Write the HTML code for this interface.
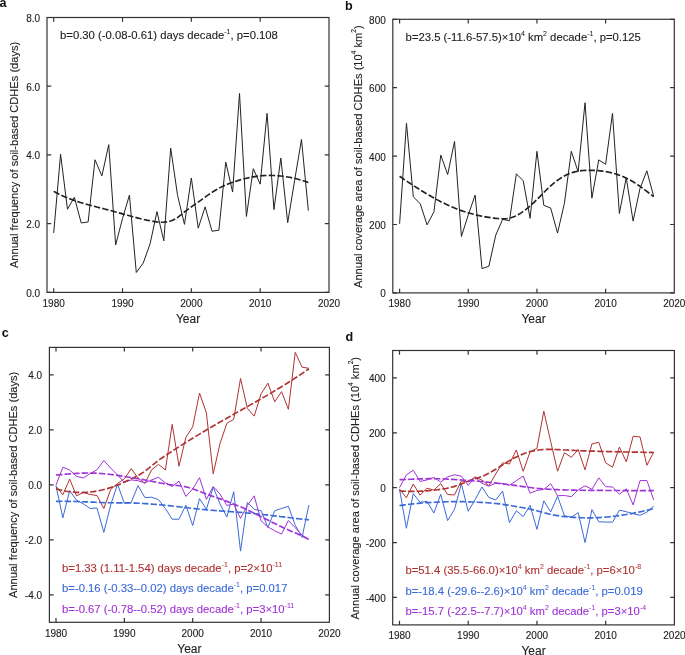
<!DOCTYPE html>
<html><head><meta charset="utf-8"><style>
html,body{margin:0;padding:0;background:#fff;width:685px;height:655px;overflow:hidden}
svg{display:block;will-change:transform}
text{font-family:"Liberation Sans", sans-serif;fill:#222;stroke:#222;stroke-width:0.12px}
.tk{font-size:10px}
.al{font-size:11.1px}
.yr{font-size:12px}
.an{font-size:11.3px}
.an tspan.sup{font-size:7px;stroke-width:0.05px}
.al tspan.sup{font-size:6.6px}
.pl{font-size:12.6px;font-weight:bold;fill:#111;stroke-width:0}
</style></head><body>
<svg width="685" height="655" viewBox="0 0 685 655">
<rect width="685" height="655" fill="#fff"/>
<rect x="47.00" y="17.50" width="282.00" height="274.90" fill="none" stroke="#333" stroke-width="1.2"/>
<path d="M53.70 292.40V288.20M53.70 17.50V21.70M122.53 292.40V288.20M122.53 17.50V21.70M191.35 292.40V288.20M191.35 17.50V21.70M260.18 292.40V288.20M260.18 17.50V21.70M47.00 292.40H51.20M329.00 292.40H324.80M47.00 223.67H51.20M329.00 223.67H324.80M47.00 154.95H51.20M329.00 154.95H324.80M47.00 86.22H51.20M329.00 86.22H324.80M47.00 17.50H51.20M329.00 17.50H324.80" stroke="#333" stroke-width="1.2" fill="none"/>
<text x="40.20" y="296.90" text-anchor="end" class="tk">0.0</text>
<text x="40.20" y="228.17" text-anchor="end" class="tk">2.0</text>
<text x="40.20" y="159.45" text-anchor="end" class="tk">4.0</text>
<text x="40.20" y="90.72" text-anchor="end" class="tk">6.0</text>
<text x="40.20" y="22.00" text-anchor="end" class="tk">8.0</text>
<text x="53.70" y="306.60" text-anchor="middle" class="tk">1980</text>
<text x="122.53" y="306.60" text-anchor="middle" class="tk">1990</text>
<text x="191.35" y="306.60" text-anchor="middle" class="tk">2000</text>
<text x="260.18" y="306.60" text-anchor="middle" class="tk">2010</text>
<text x="329.00" y="306.60" text-anchor="middle" class="tk">2020</text>
<text x="188.00" y="323.00" text-anchor="middle" class="yr">Year</text>
<text transform="translate(18.00 154.95) rotate(-90)" text-anchor="middle" class="al">Annual frequency of soil-based CDHEs (days)</text>
<polyline points="53.70,232.95 60.58,154.26 67.47,209.24 74.35,197.22 81.23,222.99 88.11,221.96 95.00,159.76 101.88,175.91 108.76,144.64 115.64,244.98 122.53,218.52 129.41,195.15 136.29,272.47 143.17,263.19 150.06,243.95 156.94,211.65 163.82,240.86 170.70,148.08 177.59,195.50 184.47,224.36 191.35,177.97 198.23,228.14 205.12,206.84 212.00,231.23 218.88,230.20 225.76,162.17 232.64,192.06 239.53,93.44 246.41,216.46 253.29,168.69 260.18,184.16 267.06,113.37 273.94,209.59 280.82,158.04 287.71,222.64 294.59,180.72 301.47,139.49 308.35,210.62" fill="none" stroke="#222" stroke-width="1.00" stroke-linejoin="miter" />
<polyline points="53.70,191.36 55.42,192.29 57.14,193.19 58.86,194.05 60.58,194.88 62.30,195.68 64.02,196.44 65.74,197.18 67.47,197.89 69.19,198.57 70.91,199.23 72.63,199.86 74.35,200.47 76.07,201.06 77.79,201.64 79.51,202.19 81.23,202.72 82.95,203.24 84.67,203.75 86.39,204.24 88.11,204.72 89.83,205.19 91.55,205.65 93.27,206.11 95.00,206.56 96.72,207.00 98.44,207.44 100.16,207.88 101.88,208.31 103.60,208.75 105.32,209.19 107.04,209.63 108.76,210.08 110.48,210.53 112.20,210.99 113.92,211.46 115.64,211.93 117.36,212.41 119.08,212.89 120.80,213.37 122.53,213.86 124.25,214.34 125.97,214.83 127.69,215.31 129.41,215.79 131.13,216.26 132.85,216.73 134.57,217.19 136.29,217.65 138.01,218.09 139.73,218.52 141.45,218.94 143.17,219.34 144.89,219.73 146.61,220.11 148.33,220.47 150.06,220.80 151.78,221.12 153.50,221.42 155.22,221.69 156.94,221.92 158.66,222.09 160.38,222.20 162.10,222.24 163.82,222.19 165.54,222.05 167.26,221.80 168.98,221.44 170.70,220.94 172.42,220.31 174.14,219.53 175.86,218.58 177.59,217.46 179.31,216.19 181.03,214.81 182.75,213.39 184.47,211.97 186.19,210.60 187.91,209.30 189.63,208.05 191.35,206.84 193.07,205.66 194.79,204.48 196.51,203.30 198.23,202.09 199.95,200.87 201.67,199.62 203.39,198.37 205.12,197.12 206.84,195.88 208.56,194.68 210.28,193.50 212.00,192.36 213.72,191.27 215.44,190.22 217.16,189.22 218.88,188.27 220.60,187.36 222.32,186.51 224.04,185.71 225.76,184.95 227.48,184.24 229.20,183.57 230.92,182.93 232.64,182.32 234.37,181.74 236.09,181.17 237.81,180.63 239.53,180.11 241.25,179.62 242.97,179.15 244.69,178.70 246.41,178.28 248.13,177.89 249.85,177.52 251.57,177.18 253.29,176.87 255.01,176.59 256.73,176.34 258.45,176.12 260.18,175.93 261.90,175.77 263.62,175.64 265.34,175.54 267.06,175.48 268.78,175.44 270.50,175.43 272.22,175.46 273.94,175.51 275.66,175.60 277.38,175.71 279.10,175.85 280.82,176.02 282.54,176.22 284.26,176.45 285.98,176.70 287.71,176.98 289.43,177.30 291.15,177.63 292.87,178.00 294.59,178.39 296.31,178.81 298.03,179.26 299.75,179.73 301.47,180.23 303.19,180.75 304.91,181.30 306.63,181.88 308.35,182.48" fill="none" stroke="#222" stroke-width="1.65" stroke-dasharray="6.4 2.2"/>
<rect x="392.80" y="19.30" width="281.50" height="273.60" fill="none" stroke="#333" stroke-width="1.2"/>
<path d="M399.60 292.90V288.70M399.60 19.30V23.50M468.27 292.90V288.70M468.27 19.30V23.50M536.95 292.90V288.70M536.95 19.30V23.50M605.62 292.90V288.70M605.62 19.30V23.50M392.80 292.90H397.00M674.30 292.90H670.10M392.80 224.50H397.00M674.30 224.50H670.10M392.80 156.10H397.00M674.30 156.10H670.10M392.80 87.70H397.00M674.30 87.70H670.10M392.80 19.30H397.00M674.30 19.30H670.10" stroke="#333" stroke-width="1.2" fill="none"/>
<text x="385.80" y="297.40" text-anchor="end" class="tk">0</text>
<text x="385.80" y="229.00" text-anchor="end" class="tk">200</text>
<text x="385.80" y="160.60" text-anchor="end" class="tk">400</text>
<text x="385.80" y="92.20" text-anchor="end" class="tk">600</text>
<text x="385.80" y="23.80" text-anchor="end" class="tk">800</text>
<text x="399.60" y="306.60" text-anchor="middle" class="tk">1980</text>
<text x="468.27" y="306.60" text-anchor="middle" class="tk">1990</text>
<text x="536.95" y="306.60" text-anchor="middle" class="tk">2000</text>
<text x="605.62" y="306.60" text-anchor="middle" class="tk">2010</text>
<text x="674.30" y="306.60" text-anchor="middle" class="tk">2020</text>
<text x="533.55" y="323.30" text-anchor="middle" class="yr">Year</text>
<text transform="translate(362.00 156.70) rotate(-90)" text-anchor="middle" class="al">Annual coverage area of soil-based CDHEs (10<tspan class="sup" dy="-5.6">4</tspan><tspan dy="5.6"> km</tspan><tspan class="sup" dy="-5.6">2</tspan><tspan dy="5.6">)</tspan></text>
<polyline points="399.60,223.82 406.47,123.27 413.34,196.80 420.20,203.64 427.07,224.84 433.94,211.85 440.81,155.07 447.67,174.57 454.54,141.39 461.41,236.47 468.27,214.92 475.14,195.09 482.01,268.62 488.88,266.22 495.75,235.10 502.61,219.37 509.48,220.74 516.35,173.88 523.22,180.72 530.08,218.34 536.95,151.31 543.82,205.35 550.68,208.08 557.55,233.05 564.42,203.30 571.29,151.31 578.15,171.83 585.02,102.75 591.89,198.17 598.76,159.86 605.62,164.31 612.49,113.35 619.36,213.56 626.23,177.65 633.10,221.08 639.96,188.59 646.83,170.81 653.70,196.46" fill="none" stroke="#222" stroke-width="1.00" stroke-linejoin="miter" />
<polyline points="399.60,176.29 401.32,177.47 403.03,178.64 404.75,179.81 406.47,180.96 408.18,182.11 409.90,183.25 411.62,184.38 413.34,185.51 415.05,186.62 416.77,187.72 418.49,188.81 420.20,189.88 421.92,190.95 423.64,192.00 425.35,193.03 427.07,194.06 428.79,195.06 430.50,196.06 432.22,197.03 433.94,197.99 435.65,198.93 437.37,199.86 439.09,200.76 440.81,201.65 442.52,202.52 444.24,203.36 445.96,204.19 447.67,204.99 449.39,205.78 451.11,206.54 452.82,207.27 454.54,207.99 456.26,208.68 457.97,209.34 459.69,209.98 461.41,210.60 463.12,211.19 464.84,211.76 466.56,212.30 468.27,212.82 469.99,213.32 471.71,213.80 473.43,214.25 475.14,214.69 476.86,215.10 478.58,215.49 480.29,215.86 482.01,216.21 483.73,216.54 485.44,216.85 487.16,217.14 488.88,217.41 490.59,217.67 492.31,217.90 494.03,218.12 495.75,218.32 497.46,218.50 499.18,218.66 500.90,218.78 502.61,218.84 504.33,218.83 506.05,218.72 507.76,218.50 509.48,218.15 511.20,217.69 512.91,217.10 514.63,216.41 516.35,215.61 518.06,214.70 519.78,213.70 521.50,212.61 523.22,211.44 524.93,210.18 526.65,208.84 528.37,207.44 530.08,205.97 531.80,204.44 533.52,202.85 535.23,201.21 536.95,199.53 538.67,197.80 540.38,196.05 542.10,194.27 543.82,192.50 545.53,190.77 547.25,189.08 548.97,187.44 550.68,185.87 552.40,184.36 554.12,182.92 555.84,181.56 557.55,180.28 559.27,179.09 560.99,177.97 562.70,176.93 564.42,175.97 566.14,175.09 567.85,174.29 569.57,173.57 571.29,172.93 573.00,172.36 574.72,171.88 576.44,171.47 578.15,171.14 579.87,170.88 581.59,170.68 583.31,170.54 585.02,170.44 586.74,170.37 588.46,170.34 590.17,170.32 591.89,170.34 593.61,170.38 595.32,170.45 597.04,170.56 598.76,170.69 600.47,170.86 602.19,171.06 603.91,171.30 605.62,171.58 607.34,171.89 609.06,172.25 610.78,172.64 612.49,173.08 614.21,173.56 615.93,174.08 617.64,174.64 619.36,175.25 621.08,175.91 622.79,176.61 624.51,177.35 626.23,178.15 627.94,178.99 629.66,179.88 631.38,180.83 633.10,181.82 634.81,182.86 636.53,183.95 638.25,185.10 639.96,186.30 641.68,187.55 643.40,188.83 645.11,190.14 646.83,191.46 648.55,192.77 650.26,194.08 651.98,195.35 653.70,196.59" fill="none" stroke="#222" stroke-width="1.65" stroke-dasharray="6.4 2.2"/>
<rect x="49.40" y="347.40" width="280.00" height="274.90" fill="none" stroke="#333" stroke-width="1.2"/>
<path d="M56.00 622.30V618.10M56.00 347.40V351.60M124.35 622.30V618.10M124.35 347.40V351.60M192.70 622.30V618.10M192.70 347.40V351.60M261.05 622.30V618.10M261.05 347.40V351.60M49.40 594.81H53.60M329.40 594.81H325.20M49.40 539.83H53.60M329.40 539.83H325.20M49.40 484.85H53.60M329.40 484.85H325.20M49.40 429.87H53.60M329.40 429.87H325.20M49.40 374.89H53.60M329.40 374.89H325.20" stroke="#333" stroke-width="1.2" fill="none"/>
<text x="42.10" y="599.31" text-anchor="end" class="tk">-4.0</text>
<text x="42.10" y="544.33" text-anchor="end" class="tk">-2.0</text>
<text x="42.10" y="489.35" text-anchor="end" class="tk">0.0</text>
<text x="42.10" y="434.37" text-anchor="end" class="tk">2.0</text>
<text x="42.10" y="379.39" text-anchor="end" class="tk">4.0</text>
<text x="56.00" y="636.50" text-anchor="middle" class="tk">1980</text>
<text x="124.35" y="636.50" text-anchor="middle" class="tk">1990</text>
<text x="192.70" y="636.50" text-anchor="middle" class="tk">2000</text>
<text x="261.05" y="636.50" text-anchor="middle" class="tk">2010</text>
<text x="329.40" y="636.50" text-anchor="middle" class="tk">2020</text>
<text x="189.40" y="653.20" text-anchor="middle" class="yr">Year</text>
<text transform="translate(17.30 484.85) rotate(-90)" text-anchor="middle" class="al">Annual frequency of soil-based CDHEs (days)</text>
<polyline points="56.00,486.22 62.84,494.75 69.67,479.08 76.50,495.85 83.34,492.55 90.17,494.47 97.01,495.57 103.84,508.49 110.68,489.52 117.52,483.48 124.35,478.80 131.19,468.63 138.02,477.98 144.85,483.48 151.69,469.73 158.53,464.37 165.36,470.01 172.19,424.37 179.03,466.16 185.86,437.29 192.70,426.85 199.53,393.03 206.37,412.83 213.20,473.85 220.04,443.34 226.87,423.27 233.71,419.42 240.54,378.46 247.38,408.43 254.21,416.12 261.05,393.86 267.88,383.14 274.72,401.83 281.55,391.66 288.39,409.25 295.23,352.35 302.06,367.19 308.89,368.29" fill="none" stroke="#b03232" stroke-width="1.00" stroke-linejoin="miter" />
<polyline points="56.00,485.67 62.84,517.84 69.67,490.62 76.50,500.24 83.34,503.82 90.17,508.49 97.01,507.94 103.84,532.41 110.68,504.92 117.52,484.16 124.35,503.27 131.19,502.44 138.02,485.67 144.85,497.50 151.69,497.22 158.53,499.69 165.36,508.49 172.19,519.21 179.03,519.21 185.86,505.19 192.70,525.54 199.53,498.59 206.37,509.32 213.20,487.05 220.04,504.09 226.87,517.01 233.71,491.72 240.54,551.10 247.38,502.44 254.21,509.32 261.05,510.69 267.88,527.46 274.72,510.69 281.55,508.49 288.39,506.29 295.23,525.26 302.06,537.36 308.89,505.06" fill="none" stroke="#3a6ad8" stroke-width="1.00" stroke-linejoin="miter" />
<polyline points="56.00,485.12 62.84,467.26 69.67,470.01 76.50,476.33 83.34,477.98 90.17,473.58 97.01,469.73 103.84,460.49 110.68,468.08 117.52,474.95 124.35,482.38 131.19,479.90 138.02,480.73 144.85,482.79 151.69,479.90 158.53,477.29 165.36,482.93 172.19,486.50 179.03,481.11 185.86,496.40 192.70,488.97 199.53,477.70 206.37,499.42 213.20,486.50 220.04,494.20 226.87,505.47 233.71,504.09 240.54,518.39 247.38,505.47 254.21,495.85 261.05,520.86 267.88,526.91 274.72,530.76 281.55,534.06 288.39,520.59 295.23,527.73 302.06,535.16 308.89,539.56" fill="none" stroke="#a033d8" stroke-width="1.00" stroke-linejoin="miter" />
<polyline points="56.00,488.84 57.71,489.32 59.42,489.77 61.13,490.18 62.84,490.55 64.54,490.90 66.25,491.21 67.96,491.48 69.67,491.72 71.38,491.93 73.09,492.10 74.80,492.24 76.50,492.34 78.21,492.41 79.92,492.45 81.63,492.46 83.34,492.43 85.05,492.37 86.76,492.27 88.47,492.15 90.17,491.99 91.88,491.79 93.59,491.57 95.30,491.31 97.01,491.02 98.72,490.70 100.43,490.35 102.14,489.97 103.84,489.55 105.55,489.10 107.26,488.63 108.97,488.11 110.68,487.57 112.39,487.00 114.10,486.40 115.81,485.76 117.52,485.10 119.22,484.40 120.93,483.68 122.64,482.92 124.35,482.14 126.06,481.33 127.77,480.51 129.48,479.68 131.19,478.85 132.89,478.01 134.60,477.17 136.31,476.31 138.02,475.41 139.73,474.46 141.44,473.44 143.15,472.34 144.85,471.14 146.56,469.87 148.27,468.54 149.98,467.17 151.69,465.78 153.40,464.40 155.11,463.03 156.82,461.71 158.53,460.43 160.23,459.18 161.94,457.97 163.65,456.79 165.36,455.64 167.07,454.50 168.78,453.37 170.49,452.25 172.19,451.14 173.90,450.03 175.61,448.93 177.32,447.84 179.03,446.75 180.74,445.67 182.45,444.60 184.16,443.52 185.86,442.46 187.57,441.40 189.28,440.34 190.99,439.29 192.70,438.25 194.41,437.21 196.12,436.17 197.83,435.14 199.53,434.11 201.24,433.09 202.95,432.07 204.66,431.06 206.37,430.05 208.08,429.04 209.79,428.04 211.50,427.04 213.20,426.04 214.91,425.04 216.62,424.05 218.33,423.07 220.04,422.08 221.75,421.10 223.46,420.12 225.17,419.14 226.87,418.17 228.58,417.19 230.29,416.22 232.00,415.25 233.71,414.29 235.42,413.32 237.13,412.36 238.84,411.39 240.54,410.43 242.25,409.47 243.96,408.51 245.67,407.55 247.38,406.58 249.09,405.62 250.80,404.65 252.51,403.69 254.21,402.72 255.92,401.75 257.63,400.78 259.34,399.80 261.05,398.82 262.76,397.84 264.47,396.85 266.18,395.86 267.88,394.87 269.59,393.87 271.30,392.86 273.01,391.85 274.72,390.83 276.43,389.81 278.14,388.78 279.85,387.75 281.55,386.70 283.26,385.65 284.97,384.59 286.68,383.53 288.39,382.45 290.10,381.37 291.81,380.28 293.52,379.18 295.23,378.06 296.93,376.94 298.64,375.81 300.35,374.67 302.06,373.51 303.77,372.35 305.48,371.17 307.19,369.98 308.89,368.78" fill="none" stroke="#b03232" stroke-width="1.65" stroke-dasharray="6.4 2.2"/>
<polyline points="56.00,501.34 57.71,501.31 59.42,501.29 61.13,501.27 62.84,501.27 64.54,501.28 66.25,501.29 67.96,501.32 69.67,501.34 71.38,501.38 73.09,501.42 74.80,501.47 76.50,501.52 78.21,501.58 79.92,501.64 81.63,501.70 83.34,501.77 85.05,501.83 86.76,501.90 88.47,501.97 90.17,502.05 91.88,502.12 93.59,502.19 95.30,502.26 97.01,502.33 98.72,502.39 100.43,502.45 102.14,502.51 103.84,502.57 105.55,502.62 107.26,502.67 108.97,502.71 110.68,502.74 112.39,502.77 114.10,502.80 115.81,502.81 117.52,502.83 119.22,502.84 120.93,502.85 122.64,502.87 124.35,502.88 126.06,502.90 127.77,502.92 129.48,502.95 131.19,502.99 132.89,503.03 134.60,503.09 136.31,503.15 138.02,503.22 139.73,503.30 141.44,503.39 143.15,503.48 144.85,503.58 146.56,503.69 148.27,503.81 149.98,503.93 151.69,504.06 153.40,504.20 155.11,504.34 156.82,504.49 158.53,504.64 160.23,504.80 161.94,504.96 163.65,505.13 165.36,505.30 167.07,505.47 168.78,505.65 170.49,505.83 172.19,506.02 173.90,506.21 175.61,506.40 177.32,506.59 179.03,506.79 180.74,506.99 182.45,507.19 184.16,507.39 185.86,507.59 187.57,507.79 189.28,508.00 190.99,508.20 192.70,508.40 194.41,508.60 196.12,508.79 197.83,508.98 199.53,509.17 201.24,509.35 202.95,509.52 204.66,509.69 206.37,509.85 208.08,510.01 209.79,510.15 211.50,510.29 213.20,510.42 214.91,510.55 216.62,510.68 218.33,510.80 220.04,510.92 221.75,511.03 223.46,511.15 225.17,511.27 226.87,511.38 228.58,511.50 230.29,511.62 232.00,511.74 233.71,511.87 235.42,512.00 237.13,512.12 238.84,512.26 240.54,512.39 242.25,512.53 243.96,512.68 245.67,512.83 247.38,512.98 249.09,513.14 250.80,513.30 252.51,513.47 254.21,513.64 255.92,513.81 257.63,513.99 259.34,514.17 261.05,514.36 262.76,514.54 264.47,514.73 266.18,514.93 267.88,515.12 269.59,515.32 271.30,515.52 273.01,515.72 274.72,515.92 276.43,516.12 278.14,516.33 279.85,516.53 281.55,516.73 283.26,516.94 284.97,517.14 286.68,517.35 288.39,517.55 290.10,517.76 291.81,517.96 293.52,518.16 295.23,518.36 296.93,518.56 298.64,518.75 300.35,518.95 302.06,519.14 303.77,519.33 305.48,519.51 307.19,519.69 308.89,519.87" fill="none" stroke="#3a6ad8" stroke-width="1.65" stroke-dasharray="6.4 2.2"/>
<polyline points="56.00,474.96 57.71,474.83 59.42,474.70 61.13,474.56 62.84,474.43 64.54,474.29 66.25,474.15 67.96,474.02 69.67,473.89 71.38,473.77 73.09,473.65 74.80,473.53 76.50,473.43 78.21,473.34 79.92,473.25 81.63,473.18 83.34,473.12 85.05,473.08 86.76,473.05 88.47,473.04 90.17,473.05 91.88,473.07 93.59,473.12 95.30,473.18 97.01,473.26 98.72,473.36 100.43,473.47 102.14,473.60 103.84,473.75 105.55,473.91 107.26,474.08 108.97,474.27 110.68,474.47 112.39,474.68 114.10,474.90 115.81,475.13 117.52,475.37 119.22,475.62 120.93,475.88 122.64,476.14 124.35,476.41 126.06,476.69 127.77,476.97 129.48,477.26 131.19,477.55 132.89,477.85 134.60,478.14 136.31,478.44 138.02,478.75 139.73,479.05 141.44,479.36 143.15,479.68 144.85,479.99 146.56,480.31 148.27,480.63 149.98,480.96 151.69,481.29 153.40,481.62 155.11,481.95 156.82,482.29 158.53,482.62 160.23,482.95 161.94,483.27 163.65,483.58 165.36,483.88 167.07,484.17 168.78,484.44 170.49,484.70 172.19,484.93 173.90,485.15 175.61,485.34 177.32,485.53 179.03,485.74 180.74,485.96 182.45,486.21 184.16,486.51 185.86,486.86 187.57,487.27 189.28,487.74 190.99,488.26 192.70,488.82 194.41,489.41 196.12,490.03 197.83,490.68 199.53,491.33 201.24,492.00 202.95,492.67 204.66,493.33 206.37,493.99 208.08,494.63 209.79,495.26 211.50,495.88 213.20,496.49 214.91,497.10 216.62,497.70 218.33,498.30 220.04,498.90 221.75,499.51 223.46,500.12 225.17,500.75 226.87,501.38 228.58,502.02 230.29,502.67 232.00,503.34 233.71,504.02 235.42,504.71 237.13,505.41 238.84,506.13 240.54,506.86 242.25,507.60 243.96,508.36 245.67,509.13 247.38,509.92 249.09,510.73 250.80,511.54 252.51,512.37 254.21,513.20 255.92,514.05 257.63,514.90 259.34,515.76 261.05,516.62 262.76,517.48 264.47,518.35 266.18,519.22 267.88,520.08 269.59,520.95 271.30,521.81 273.01,522.67 274.72,523.52 276.43,524.36 278.14,525.19 279.85,526.01 281.55,526.83 283.26,527.63 284.97,528.41 286.68,529.18 288.39,529.93 290.10,530.67 291.81,531.41 293.52,532.14 295.23,532.87 296.93,533.62 298.64,534.38 300.35,535.15 302.06,535.96 303.77,536.79 305.48,537.67 307.19,538.58 308.89,539.54" fill="none" stroke="#a033d8" stroke-width="1.65" stroke-dasharray="6.4 2.2"/>
<rect x="392.70" y="350.50" width="281.70" height="274.40" fill="none" stroke="#333" stroke-width="1.2"/>
<path d="M399.50 624.90V620.70M399.50 350.50V354.70M468.23 624.90V620.70M468.23 350.50V354.70M536.95 624.90V620.70M536.95 350.50V354.70M605.67 624.90V620.70M605.67 350.50V354.70M392.70 597.46H396.90M674.40 597.46H670.20M392.70 542.58H396.90M674.40 542.58H670.20M392.70 487.70H396.90M674.40 487.70H670.20M392.70 432.82H396.90M674.40 432.82H670.20M392.70 377.94H396.90M674.40 377.94H670.20" stroke="#333" stroke-width="1.2" fill="none"/>
<text x="385.70" y="601.96" text-anchor="end" class="tk">-400</text>
<text x="385.70" y="547.08" text-anchor="end" class="tk">-200</text>
<text x="385.70" y="492.20" text-anchor="end" class="tk">0</text>
<text x="385.70" y="437.32" text-anchor="end" class="tk">200</text>
<text x="385.70" y="382.44" text-anchor="end" class="tk">400</text>
<text x="399.50" y="638.70" text-anchor="middle" class="tk">1980</text>
<text x="468.23" y="638.70" text-anchor="middle" class="tk">1990</text>
<text x="536.95" y="638.70" text-anchor="middle" class="tk">2000</text>
<text x="605.67" y="638.70" text-anchor="middle" class="tk">2010</text>
<text x="674.40" y="638.70" text-anchor="middle" class="tk">2020</text>
<text x="533.55" y="654.80" text-anchor="middle" class="yr">Year</text>
<text transform="translate(358.90 488.30) rotate(-90)" text-anchor="middle" class="al">Annual coverage area of soil-based CDHEs (10<tspan class="sup" dy="-5.6">4</tspan><tspan dy="5.6"> km</tspan><tspan class="sup" dy="-5.6">2</tspan><tspan dy="5.6">)</tspan></text>
<polyline points="399.50,489.07 406.37,497.77 413.25,484.02 420.12,495.16 426.99,488.14 433.86,490.14 440.74,483.58 447.61,494.56 454.48,494.94 461.35,480.95 468.23,481.83 475.10,476.92 481.97,480.07 488.84,485.67 495.71,473.98 502.59,462.89 509.46,463.94 516.33,449.94 523.21,471.32 530.08,451.75 536.95,448.32 543.82,411.14 550.69,441.60 557.57,471.24 564.44,452.71 571.31,457.32 578.18,449.59 585.06,469.89 591.93,443.93 598.80,442.26 605.67,462.87 612.55,467.15 619.42,447.01 626.29,461.80 633.16,436.30 640.04,436.94 646.91,465.31 653.78,451.89" fill="none" stroke="#b03232" stroke-width="1.00" stroke-linejoin="miter" />
<polyline points="399.50,489.07 406.37,528.28 413.25,493.65 420.12,502.35 426.99,501.28 433.86,513.03 440.74,494.26 447.61,520.63 454.48,509.38 461.35,483.86 468.23,511.30 475.10,499.61 481.97,486.99 488.84,497.50 495.71,499.97 502.59,491.10 509.46,522.63 516.33,510.75 523.21,516.51 530.08,505.40 536.95,529.35 543.82,500.82 550.69,511.96 557.57,496.23 564.44,515.61 571.31,517.31 578.18,512.59 585.06,542.58 591.93,509.57 598.80,521.78 605.67,522.08 612.55,522.08 619.42,510.17 626.29,511.71 633.16,513.69 640.04,515.22 646.91,512.18 653.78,506.06" fill="none" stroke="#3a6ad8" stroke-width="1.00" stroke-linejoin="miter" />
<polyline points="399.50,487.70 406.37,474.86 413.25,470.28 420.12,481.44 426.99,479.91 433.86,477.46 440.74,482.05 447.61,476.86 454.48,474.75 461.35,476.18 468.23,485.45 475.10,477.00 481.97,483.31 488.84,486.19 495.71,483.04 502.59,483.58 509.46,485.23 516.33,480.70 523.21,476.07 530.08,493.19 536.95,490.44 543.82,489.35 550.69,483.72 557.57,495.77 564.44,495.47 571.31,496.70 578.18,489.90 585.06,485.75 591.93,489.26 598.80,477.82 605.67,486.68 612.55,486.99 619.42,494.29 626.29,488.80 633.16,504.99 640.04,480.57 646.91,480.57 653.78,499.97" fill="none" stroke="#a033d8" stroke-width="1.00" stroke-linejoin="miter" />
<polyline points="399.50,490.94 401.22,491.05 402.94,491.14 404.65,491.21 406.37,491.27 408.09,491.31 409.81,491.34 411.53,491.36 413.25,491.36 414.96,491.34 416.68,491.31 418.40,491.26 420.12,491.20 421.84,491.13 423.55,491.04 425.27,490.93 426.99,490.82 428.71,490.68 430.43,490.54 432.14,490.37 433.86,490.20 435.58,490.01 437.30,489.80 439.02,489.58 440.74,489.34 442.45,489.08 444.17,488.79 445.89,488.48 447.61,488.13 449.33,487.74 451.04,487.32 452.76,486.86 454.48,486.35 456.20,485.79 457.92,485.19 459.63,484.55 461.35,483.88 463.07,483.19 464.79,482.51 466.51,481.84 468.23,481.20 469.94,480.59 471.66,480.01 473.38,479.45 475.10,478.88 476.82,478.31 478.53,477.71 480.25,477.07 481.97,476.39 483.69,475.66 485.41,474.88 487.12,474.06 488.84,473.19 490.56,472.28 492.28,471.33 494.00,470.33 495.71,469.29 497.43,468.22 499.15,467.12 500.87,466.02 502.59,464.91 504.31,463.81 506.02,462.73 507.74,461.67 509.46,460.65 511.18,459.67 512.90,458.72 514.61,457.82 516.33,456.96 518.05,456.14 519.77,455.37 521.49,454.63 523.21,453.95 524.92,453.31 526.64,452.71 528.36,452.17 530.08,451.67 531.80,451.23 533.51,450.83 535.23,450.48 536.95,450.19 538.67,449.95 540.39,449.75 542.10,449.60 543.82,449.49 545.54,449.41 547.26,449.37 548.98,449.35 550.69,449.36 552.41,449.39 554.13,449.45 555.85,449.51 557.57,449.59 559.29,449.68 561.00,449.77 562.72,449.87 564.44,449.96 566.16,450.05 567.88,450.13 569.59,450.22 571.31,450.30 573.03,450.38 574.75,450.46 576.47,450.54 578.18,450.61 579.90,450.68 581.62,450.75 583.34,450.82 585.06,450.88 586.78,450.94 588.49,451.01 590.21,451.06 591.93,451.12 593.65,451.18 595.37,451.23 597.08,451.28 598.80,451.34 600.52,451.39 602.24,451.43 603.96,451.48 605.67,451.53 607.39,451.57 609.11,451.61 610.83,451.65 612.55,451.69 614.27,451.73 615.98,451.77 617.70,451.81 619.42,451.84 621.14,451.88 622.86,451.91 624.57,451.95 626.29,451.98 628.01,452.01 629.73,452.04 631.45,452.07 633.16,452.10 634.88,452.13 636.60,452.16 638.32,452.19 640.04,452.22 641.76,452.25 643.47,452.28 645.19,452.31 646.91,452.33 648.63,452.36 650.35,452.39 652.06,452.42 653.78,452.45" fill="none" stroke="#b03232" stroke-width="1.65" stroke-dasharray="6.4 2.2"/>
<polyline points="399.50,505.64 401.22,505.37 402.94,505.11 404.65,504.86 406.37,504.63 408.09,504.41 409.81,504.21 411.53,504.01 413.25,503.83 414.96,503.65 416.68,503.49 418.40,503.34 420.12,503.19 421.84,503.05 423.55,502.93 425.27,502.80 426.99,502.69 428.71,502.58 430.43,502.48 432.14,502.38 433.86,502.29 435.58,502.20 437.30,502.11 439.02,502.03 440.74,501.95 442.45,501.88 444.17,501.81 445.89,501.75 447.61,501.70 449.33,501.66 451.04,501.62 452.76,501.59 454.48,501.58 456.20,501.57 457.92,501.58 459.63,501.59 461.35,501.62 463.07,501.66 464.79,501.70 466.51,501.75 468.23,501.81 469.94,501.88 471.66,501.95 473.38,502.02 475.10,502.10 476.82,502.18 478.53,502.27 480.25,502.35 481.97,502.44 483.69,502.54 485.41,502.65 487.12,502.76 488.84,502.88 490.56,503.02 492.28,503.16 494.00,503.32 495.71,503.50 497.43,503.69 499.15,503.90 500.87,504.12 502.59,504.36 504.31,504.61 506.02,504.87 507.74,505.14 509.46,505.42 511.18,505.70 512.90,505.99 514.61,506.28 516.33,506.58 518.05,506.88 519.77,507.17 521.49,507.47 523.21,507.77 524.92,508.09 526.64,508.41 528.36,508.75 530.08,509.11 531.80,509.49 533.51,509.90 535.23,510.33 536.95,510.78 538.67,511.24 540.39,511.71 542.10,512.18 543.82,512.64 545.54,513.10 547.26,513.54 548.98,513.97 550.69,514.36 552.41,514.73 554.13,515.07 555.85,515.38 557.57,515.66 559.29,515.92 561.00,516.15 562.72,516.37 564.44,516.56 566.16,516.74 567.88,516.90 569.59,517.05 571.31,517.19 573.03,517.31 574.75,517.42 576.47,517.52 578.18,517.61 579.90,517.68 581.62,517.75 583.34,517.79 585.06,517.83 586.78,517.85 588.49,517.86 590.21,517.85 591.93,517.83 593.65,517.79 595.37,517.74 597.08,517.67 598.80,517.59 600.52,517.50 602.24,517.39 603.96,517.26 605.67,517.13 607.39,516.98 609.11,516.82 610.83,516.64 612.55,516.45 614.27,516.25 615.98,516.04 617.70,515.81 619.42,515.57 621.14,515.32 622.86,515.06 624.57,514.79 626.29,514.50 628.01,514.21 629.73,513.90 631.45,513.58 633.16,513.25 634.88,512.92 636.60,512.57 638.32,512.21 640.04,511.84 641.76,511.46 643.47,511.07 645.19,510.68 646.91,510.27 648.63,509.86 650.35,509.43 652.06,509.00 653.78,508.56" fill="none" stroke="#3a6ad8" stroke-width="1.65" stroke-dasharray="6.4 2.2"/>
<polyline points="399.50,479.69 401.22,479.63 402.94,479.57 404.65,479.50 406.37,479.43 408.09,479.36 409.81,479.29 411.53,479.22 413.25,479.15 414.96,479.08 416.68,479.01 418.40,478.95 420.12,478.89 421.84,478.84 423.55,478.79 425.27,478.75 426.99,478.72 428.71,478.69 430.43,478.68 432.14,478.67 433.86,478.68 435.58,478.70 437.30,478.73 439.02,478.77 440.74,478.82 442.45,478.89 444.17,478.96 445.89,479.04 447.61,479.13 449.33,479.23 451.04,479.33 452.76,479.43 454.48,479.54 456.20,479.65 457.92,479.76 459.63,479.87 461.35,479.99 463.07,480.10 464.79,480.22 466.51,480.35 468.23,480.47 469.94,480.60 471.66,480.73 473.38,480.87 475.10,481.01 476.82,481.15 478.53,481.30 480.25,481.45 481.97,481.61 483.69,481.78 485.41,481.95 487.12,482.12 488.84,482.30 490.56,482.48 492.28,482.66 494.00,482.85 495.71,483.05 497.43,483.24 499.15,483.45 500.87,483.65 502.59,483.86 504.31,484.07 506.02,484.29 507.74,484.51 509.46,484.74 511.18,484.96 512.90,485.19 514.61,485.43 516.33,485.66 518.05,485.90 519.77,486.15 521.49,486.39 523.21,486.63 524.92,486.87 526.64,487.10 528.36,487.33 530.08,487.55 531.80,487.76 533.51,487.96 535.23,488.14 536.95,488.31 538.67,488.47 540.39,488.62 542.10,488.77 543.82,488.90 545.54,489.02 547.26,489.14 548.98,489.24 550.69,489.34 552.41,489.43 554.13,489.52 555.85,489.60 557.57,489.68 559.29,489.75 561.00,489.81 562.72,489.87 564.44,489.93 566.16,489.98 567.88,490.02 569.59,490.06 571.31,490.10 573.03,490.14 574.75,490.17 576.47,490.20 578.18,490.22 579.90,490.25 581.62,490.27 583.34,490.29 585.06,490.31 586.78,490.32 588.49,490.34 590.21,490.35 591.93,490.37 593.65,490.38 595.37,490.39 597.08,490.41 598.80,490.42 600.52,490.43 602.24,490.44 603.96,490.45 605.67,490.46 607.39,490.48 609.11,490.49 610.83,490.50 612.55,490.50 614.27,490.51 615.98,490.52 617.70,490.53 619.42,490.54 621.14,490.55 622.86,490.56 624.57,490.56 626.29,490.57 628.01,490.58 629.73,490.58 631.45,490.59 633.16,490.60 634.88,490.60 636.60,490.61 638.32,490.62 640.04,490.62 641.76,490.63 643.47,490.63 645.19,490.64 646.91,490.64 648.63,490.65 650.35,490.65 652.06,490.66 653.78,490.66" fill="none" stroke="#a033d8" stroke-width="1.65" stroke-dasharray="6.4 2.2"/>
<text x="60.00" y="38.60" class="an" fill="#222"><tspan>b=0.30 (-0.08-0.61) days decade</tspan><tspan class="sup" dy="-5">-1</tspan><tspan dy="5">, p=0.108</tspan></text>
<text x="405.60" y="40.50" class="an" fill="#222"><tspan>b=23.5 (-11.6-57.5)×10</tspan><tspan class="sup" dy="-5">4</tspan><tspan dy="5"> km</tspan><tspan class="sup" dy="-5">2</tspan><tspan dy="5"> decade</tspan><tspan class="sup" dy="-5">-1</tspan><tspan dy="5">, p=0.125</tspan></text>
<text x="62.00" y="571.80" class="an" style="fill:#b03232;stroke:#b03232"><tspan>b=1.33 (1.11-1.54) days decade</tspan><tspan class="sup" dy="-5">-1</tspan><tspan dy="5">, p=2×10</tspan><tspan class="sup" dy="-5">-11</tspan></text>
<text x="62.00" y="592.40" class="an" style="fill:#3a6ad8;stroke:#3a6ad8"><tspan>b=-0.16 (-0.33--0.02) days decade</tspan><tspan class="sup" dy="-5">-1</tspan><tspan dy="5">, p=0.017</tspan></text>
<text x="62.00" y="612.90" class="an" style="fill:#a033d8;stroke:#a033d8"><tspan>b=-0.67 (-0.78--0.52) days decade</tspan><tspan class="sup" dy="-5">-1</tspan><tspan dy="5">, p=3×10</tspan><tspan class="sup" dy="-5">-11</tspan></text>
<text x="405.40" y="574.30" class="an" style="fill:#b03232;stroke:#b03232"><tspan>b=51.4 (35.5-66.0)×10</tspan><tspan class="sup" dy="-5">4</tspan><tspan dy="5"> km</tspan><tspan class="sup" dy="-5">2</tspan><tspan dy="5"> decade</tspan><tspan class="sup" dy="-5">-1</tspan><tspan dy="5">, p=6×10</tspan><tspan class="sup" dy="-5">-8</tspan></text>
<text x="405.40" y="594.60" class="an" style="fill:#3a6ad8;stroke:#3a6ad8"><tspan>b=-18.4 (-29.6--2.6)×10</tspan><tspan class="sup" dy="-5">4</tspan><tspan dy="5"> km</tspan><tspan class="sup" dy="-5">2</tspan><tspan dy="5"> decade</tspan><tspan class="sup" dy="-5">-1</tspan><tspan dy="5">, p=0.019</tspan></text>
<text x="405.40" y="615.30" class="an" style="fill:#a033d8;stroke:#a033d8"><tspan>b=-15.7 (-22.5--7.7)×10</tspan><tspan class="sup" dy="-5">4</tspan><tspan dy="5"> km</tspan><tspan class="sup" dy="-5">2</tspan><tspan dy="5"> decade</tspan><tspan class="sup" dy="-5">-1</tspan><tspan dy="5">, p=3×10</tspan><tspan class="sup" dy="-5">-4</tspan></text>
<text x="-0.5" y="6.9" class="pl">a</text>
<text x="345.1" y="9.9" class="pl">b</text>
<text x="1.8" y="337.3" class="pl">c</text>
<text x="345.6" y="340.7" class="pl">d</text>
</svg>
</body></html>
